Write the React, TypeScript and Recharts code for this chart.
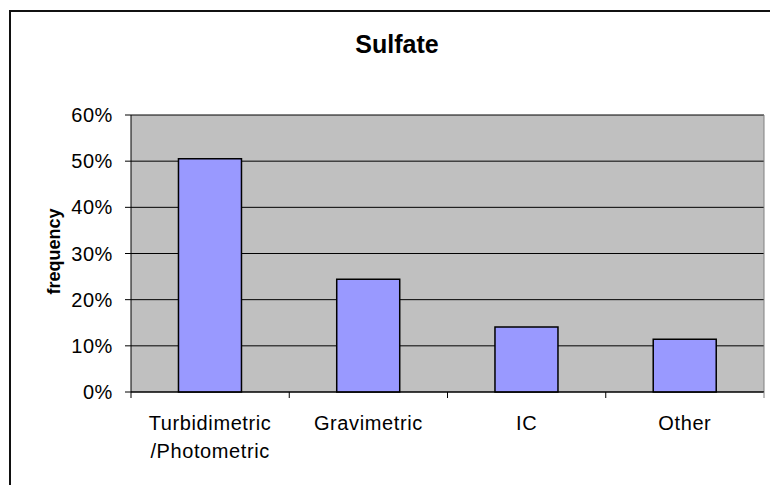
import React from "react";
import { BarChart, Bar, XAxis, YAxis, CartesianGrid } from "recharts";

const categories = ["Turbidimetric\n/Photometric", "Gravimetric", "IC", "Other"];
const frequency = [50.5, 24.4, 14.1, 11.4];
const yTicks = [0, 10, 20, 30, 40, 50, 60];
const chartTitle = "Sulfate";
const yTitle = "frequency";

const data = categories.map((c, i) => ({ category: c, value: frequency[i] }));

const FONT = "'Liberation Sans', Arial, sans-serif";

function XTick(props: any) {
  const { x, y, payload, index, visibleTicksCount } = props;
  const half = payload && payload.offset != null ? payload.offset : 79;
  const lines = String(payload.value).split("\n");
  const last = (visibleTicksCount ?? categories.length) - 1;
  return (
    <g>
      <line x1={x - half} x2={x - half} y1={y} y2={y + 6} stroke="#000" strokeWidth={1} />
      {index === last && (
        <line x1={x + half} x2={x + half} y1={y} y2={y + 6} stroke="#808080" strokeWidth={1} />
      )}
      <text x={x} y={y + 38} textAnchor="middle" fontSize={20} fontFamily={FONT} fill="#000" letterSpacing={0.6}>
        {lines.map((l, i) => (
          <tspan key={i} x={x} dy={i === 0 ? 0 : 28}>
            {l}
          </tspan>
        ))}
      </text>
    </g>
  );
}

function YLabel(props: any) {
  const vb = props.viewBox || { x: 51, y: 115, width: 80, height: 277 };
  const cx = vb.x + 3;
  const cy = vb.y + vb.height / 2 - 2;
  return (
    <text
      x={cx}
      y={cy}
      transform={`rotate(-90, ${cx}, ${cy})`}
      textAnchor="middle"
      dominantBaseline="central"
      fontSize={18}
      fontWeight="bold"
      fontFamily={FONT}
      fill="#000"
    >
      {yTitle}
    </text>
  );
}

export default function App() {
  return (
    <div style={{ position: "absolute", left: 0, top: 0, width: 770, height: 485, overflow: "hidden", background: "#fff" }}>
      <div
        style={{
          position: "absolute",
          left: 9,
          top: 10,
          width: 800,
          height: 520,
          borderLeft: "2px solid #111",
          borderTop: "2px solid #111",
          boxSizing: "border-box",
        }}
      />
      <div
        style={{
          position: "absolute",
          left: 297,
          top: 32,
          width: 200,
          textAlign: "center",
          fontFamily: FONT,
          fontWeight: "bold",
          fontSize: 25,
          lineHeight: "25px",
          color: "#000",
        }}
      >
        {chartTitle}
      </div>
      <div style={{ position: "absolute", left: 0, top: 0 }}>
        <BarChart
          width={770}
          height={485}
          data={data}
          margin={{ top: 115, right: 6, bottom: 33, left: 51 }}
          barCategoryGap="30%"
        >
          <CartesianGrid horizontal={true} vertical={false} fill="#C0C0C0" stroke="#000" strokeWidth={1} />
          <CartesianGrid
            horizontal={false}
            vertical={true}
            stroke="#808080"
            strokeWidth={1}
            verticalCoordinatesGenerator={({ offset }: any) => [offset.left + offset.width]}
          />
          <XAxis
            dataKey="category"
            height={60}
            interval={0}
            tickLine={false}
            tickSize={0}
            tickMargin={0}
            axisLine={{ stroke: "#000", strokeWidth: 1 }}
            tick={<XTick />}
          />
          <YAxis
            width={80}
            domain={[0, 60]}
            ticks={yTicks}
            interval={0}
            tickFormatter={(v: number) => `${v}%`}
            tickSize={6}
            tickMargin={12}
            axisLine={{ stroke: "#000", strokeWidth: 1 }}
            tickLine={{ stroke: "#000", strokeWidth: 1 }}
            tick={{ fontSize: 20, fill: "#000", fontFamily: FONT, letterSpacing: 0.6 }}
            label={<YLabel />}
          />
          <Bar dataKey="value" fill="#9999FF" stroke="#000" strokeWidth={1.5} isAnimationActive={false} />
        </BarChart>
      </div>
    </div>
  );
}
